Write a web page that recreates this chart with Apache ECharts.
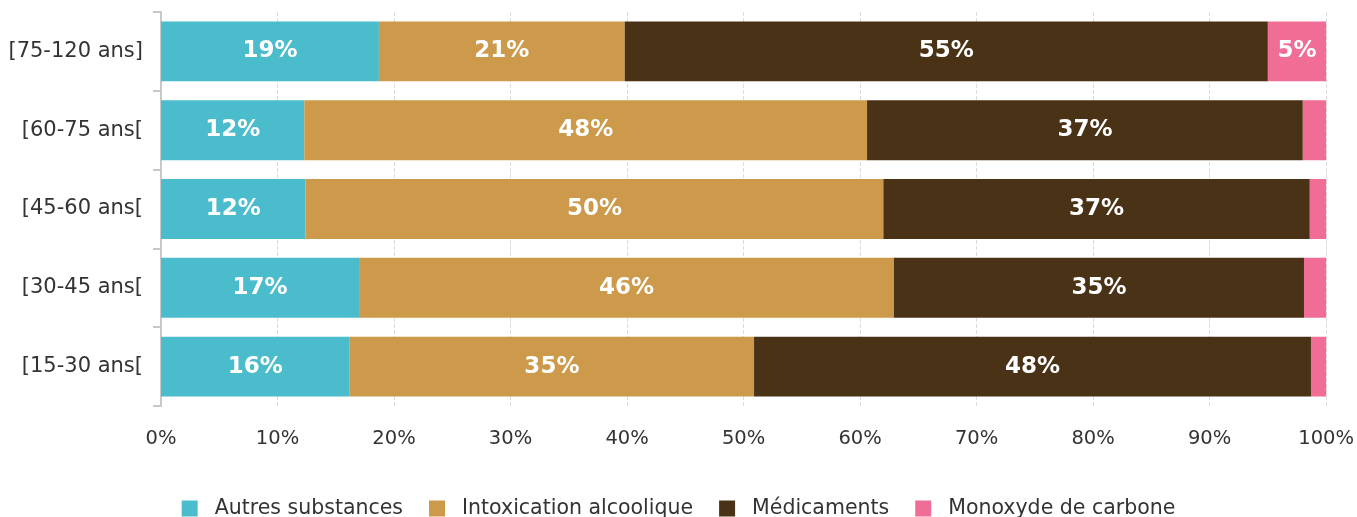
<!DOCTYPE html>
<html><head><meta charset="utf-8">
<script src="https://cdn.jsdelivr.net/npm/echarts@6/dist/echarts.min.js"></script>
<style>html,body{margin:0;padding:0;background:#fff}#c{width:1357px;height:517px}</style>
</head><body><div id="c"></div>
<script>
const categories = ['[15-30 ans[', '[30-45 ans[', '[45-60 ans[', '[60-75 ans[', '[75-120 ans]'];
const autres = [16.2, 17.0, 12.4, 12.3, 18.7];
const alcool = [34.7, 45.9, 49.6, 48.3, 21.1];
const medicaments = [47.8, 35.2, 36.6, 37.4, 55.2];
const monoxyde = [1.3, 1.9, 1.4, 2.0, 5.0];
const seriesNames = ['Autres substances', 'Intoxication alcoolique', 'Médicaments', 'Monoxyde de carbone'];
const colors = ['#4BBCCC', '#CC9A4A', '#4A3216', '#F06E96'];
const FONT = 'DejaVu Sans';

const chart = echarts.init(document.getElementById('c'), null, {renderer: 'canvas'});
const mk = (name, data, color) => ({
  name, type: 'bar', stack: 'total', data, barWidth: '76%',
  itemStyle: {color},
  label: {
    show: true, position: 'inside', color: '#fff', fontFamily: FONT, fontWeight: 'bold', fontSize: 23,
    formatter: p => p.value >= 3 ? Math.round(p.value) + '%' : ''
  }
});
chart.setOption({
  animation: false,
  textStyle: {fontFamily: FONT},
  grid: {left: 161, right: 30, top: 12, bottom: 111, containLabel: false},
  legend: {
    bottom: -7, left: 'center', itemWidth: 16, itemHeight: 16, itemGap: 26,
    icon: 'rect',
    textStyle: {fontFamily: FONT, fontSize: 20.5, color: '#333', padding: [0, 0, 0, 12]},
    data: seriesNames
  },
  xAxis: {
    type: 'value', min: 0, max: 100, interval: 10,
    axisLabel: {formatter: '{value}%', fontFamily: FONT, fontSize: 19.5, color: '#333', margin: 23},
    axisLine: {show: false}, axisTick: {show: false},
    splitLine: {show: true, lineStyle: {color: '#dcdcdc', type: 'dashed', width: 1}}
  },
  yAxis: {
    type: 'category', data: categories,
    axisLine: {show: true, lineStyle: {color: '#c8c8c8', width: 2}},
    axisTick: {show: true, length: 8, lineStyle: {color: '#c8c8c8', width: 2}},
    axisLabel: {fontFamily: FONT, fontSize: 21, color: '#333', margin: 18}
  },
  series: [
    mk(seriesNames[0], autres, colors[0]),
    mk(seriesNames[1], alcool, colors[1]),
    mk(seriesNames[2], medicaments, colors[2]),
    mk(seriesNames[3], monoxyde, colors[3])
  ]
});
</script></body></html>
